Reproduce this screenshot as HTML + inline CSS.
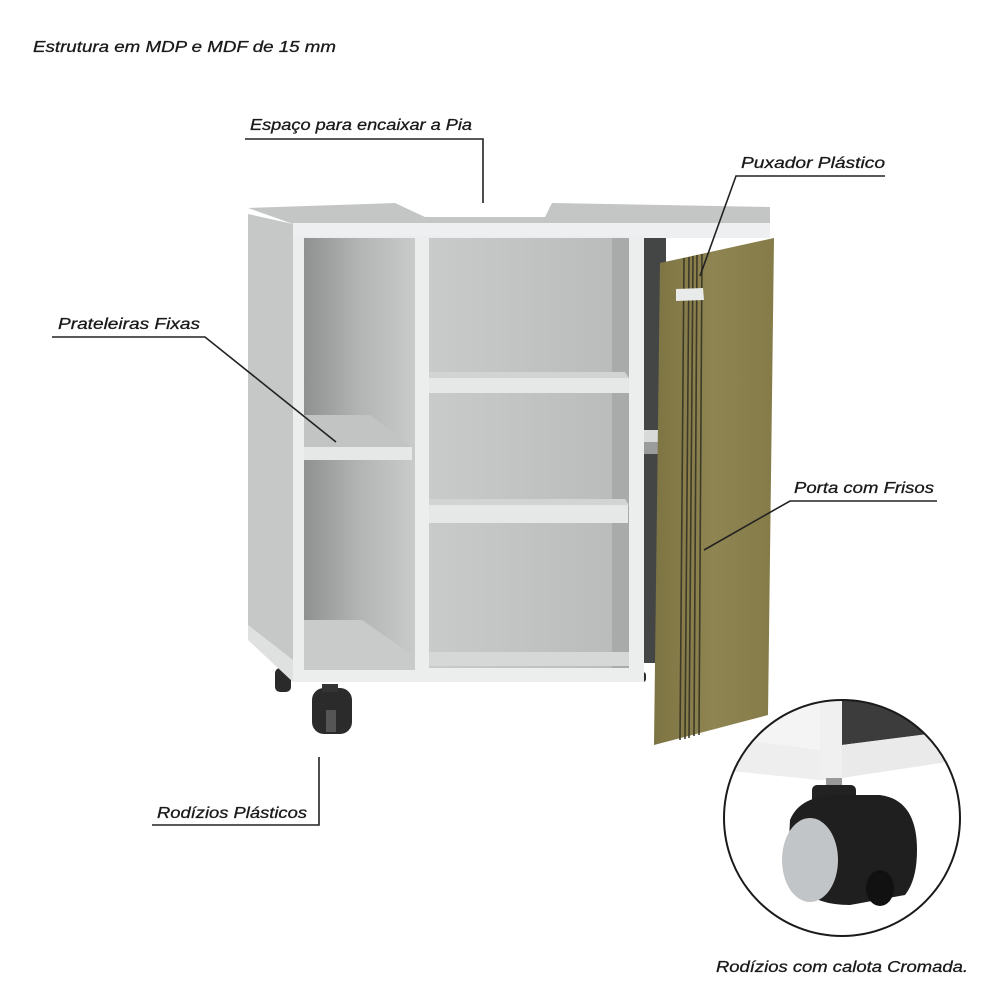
<!DOCTYPE html>
<html><head><meta charset="utf-8"><style>
html,body{margin:0;padding:0;background:#fff;}
svg{display:block}
text{font-family:"Liberation Sans",sans-serif;font-style:italic;font-size:16px;fill:#1a1a1a;stroke:#1a1a1a;stroke-width:0.3;}
</style></head><body>
<svg width="1000" height="1000" viewBox="0 0 1000 1000" xmlns="http://www.w3.org/2000/svg">
<defs>
<linearGradient id="wood" x1="0" x2="1" y1="0" y2="0">
<stop offset="0" stop-color="#7d7443"/><stop offset="0.5" stop-color="#8f8552"/><stop offset="1" stop-color="#857b49"/>
</linearGradient>
<linearGradient id="inner" x1="0" x2="1"><stop offset="0" stop-color="#8f9191"/><stop offset="0.5" stop-color="#b3b5b5"/><stop offset="1" stop-color="#c9cbcb"/></linearGradient>
<linearGradient id="midin" x1="0" x2="1"><stop offset="0" stop-color="#c9cbcb"/><stop offset="1" stop-color="#b9bbbb"/></linearGradient>
<clipPath id="cc"><circle cx="842" cy="818" r="118"/></clipPath>
</defs>

<!-- back wheels -->
<rect x="275" y="668" width="16" height="24" rx="5" fill="#2a2a2a"/>
<rect x="632" y="672" width="14" height="10" rx="3" fill="#2a2a2a"/>
<rect x="707" y="695" width="22" height="26" rx="6" fill="#2a2a2a"/>

<!-- top surface -->
<polygon points="248,208 395,203 425,217 545,217 552,203 770,207 770,224 293,224" fill="#c4c6c6"/>
<rect x="293" y="223" width="477" height="15" fill="#eeeff0"/>
<!-- left side -->
<polygon points="248,214 293,224 293,682 248,633" fill="#c6c8c8"/>
<polygon points="248,625 293,660 293,682 248,640" fill="#dfe0e0"/>
<!-- front frame -->
<rect x="293" y="236" width="351" height="446" fill="#eceded"/>
<!-- left compartment -->
<rect x="304" y="238" width="111" height="432" fill="url(#inner)"/>
<polygon points="304,620 362,620 412,655 412,670 304,670" fill="#c9cbcb"/>
<polygon points="304,415 370,415 412,447 304,447" fill="#c2c4c4"/>
<rect x="304" y="447" width="108" height="13" fill="#e6e7e7"/>
<!-- middle -->
<rect x="429" y="238" width="200" height="430" fill="url(#midin)"/>
<rect x="612" y="238" width="17" height="430" fill="#a9abab"/>
<polygon points="429,372 625,372 629,378 429,378" fill="#d2d4d4"/>
<rect x="429" y="378" width="200" height="15" fill="#e6e7e7"/>
<polygon points="429,499 625,499 629,505 429,505" fill="#d2d4d4"/>
<rect x="429" y="505" width="199" height="18" fill="#e6e7e7"/>
<rect x="429" y="652" width="200" height="14" fill="#d6d8d8"/>
<!-- right dark region -->
<rect x="644" y="238" width="22" height="425" fill="#444645"/>
<rect x="644" y="430" width="16" height="12" fill="#d8d9d9"/>
<rect x="644" y="442" width="16" height="12" fill="#9a9c9c"/>
<!-- door -->
<polygon points="660,263 774,238 768,715 654,745" fill="url(#wood)"/>
<g stroke="#3e3a28" stroke-width="1.6">
<line x1="684" y1="258" x2="680" y2="740"/>
<line x1="689" y1="257" x2="685" y2="739"/>
<line x1="693" y1="256" x2="689" y2="738"/>
<line x1="697" y1="255" x2="694" y2="736"/>
<line x1="702" y1="254" x2="699" y2="735"/>
</g>
<polygon points="676,289 703,288 704,300 676,301" fill="#e9eaea"/>
<!-- front wheel -->
<rect x="312" y="688" width="40" height="46" rx="12" fill="#2b2b2b"/>
<rect x="322" y="684" width="16" height="8" fill="#333"/>
<rect x="326" y="710" width="10" height="22" fill="#555"/>

<!-- inset circle -->
<g clip-path="url(#cc)">
<rect x="700" y="690" width="300" height="260" fill="#fff"/>
<polygon points="720,700 960,700 960,735 720,760" fill="#f4f4f4"/>
<polygon points="720,737 820,750 820,780 720,770" fill="#eeeeee"/>
<rect x="820" y="700" width="22" height="80" fill="#f0f0f0"/>
<polygon points="842,700 960,700 960,730 842,745" fill="#3c3c3c"/>
<polygon points="842,745 960,730 960,760 842,778" fill="#eaeaea"/>
</g>
<rect x="826" y="778" width="16" height="8" fill="#999"/>
<rect x="812" y="785" width="44" height="22" rx="5" fill="#222"/>
<path d="M790,820 Q800,795 840,795 L880,795 Q917,800 917,850 Q917,880 905,895 L850,905 Q795,905 788,860 Z" fill="#1f1f1f"/>
<ellipse cx="810" cy="860" rx="28" ry="42" fill="#c2c5c7"/>
<ellipse cx="880" cy="888" rx="14" ry="18" fill="#111"/>
<circle cx="842" cy="818" r="118" fill="none" stroke="#1a1a1a" stroke-width="2"/>

<!-- labels -->
<text x="33" y="52" textLength="303" lengthAdjust="spacingAndGlyphs">Estrutura em MDP e MDF de 15 mm</text>
<text x="250" y="130" textLength="222" lengthAdjust="spacingAndGlyphs">Espaço para encaixar a Pia</text>
<polyline points="245,139 483,139 483,203" fill="none" stroke="#222" stroke-width="1.6"/>
<text x="741" y="168" textLength="144" lengthAdjust="spacingAndGlyphs">Puxador Plástico</text>
<polyline points="885,176 736,176 700,276" fill="none" stroke="#222" stroke-width="1.6"/>
<text x="58" y="329" textLength="142" lengthAdjust="spacingAndGlyphs">Prateleiras Fixas</text>
<polyline points="52,337 205,337 336,442" fill="none" stroke="#222" stroke-width="1.6"/>
<text x="794" y="493" textLength="140" lengthAdjust="spacingAndGlyphs">Porta com Frisos</text>
<polyline points="937,501 790,501 704,550" fill="none" stroke="#222" stroke-width="1.6"/>
<text x="157" y="818" textLength="150" lengthAdjust="spacingAndGlyphs">Rodízios Plásticos</text>
<polyline points="152,825 319,825 319,757" fill="none" stroke="#222" stroke-width="1.6"/>
<text x="716" y="972" textLength="252" lengthAdjust="spacingAndGlyphs">Rodízios com calota Cromada.</text>
</svg>
</body></html>
